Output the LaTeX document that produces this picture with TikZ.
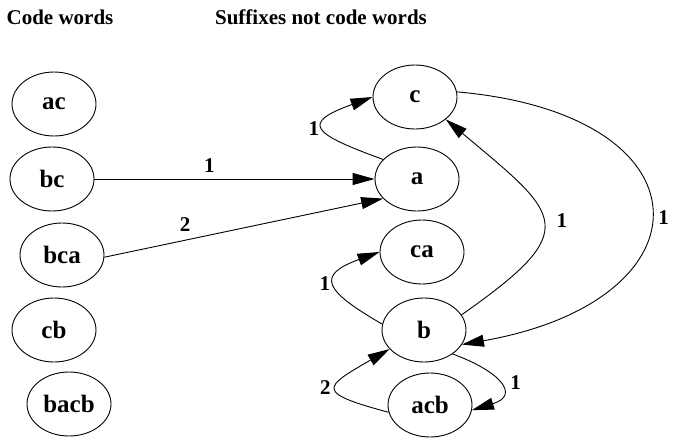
\documentclass[tikz,border=0pt]{standalone}
\usepackage{fontspec}
\setmainfont{Liberation Serif}
\usetikzlibrary{arrows.meta,shapes.geometric}

\begin{document}
\begin{tikzpicture}[
    x=1pt, y=-1pt,
    word/.style={ellipse, draw=black, line width=0.9pt, minimum width=84pt,
      minimum height=64pt, inner sep=0pt, font=\fontsize{25}{28}\selectfont\bfseries},
    head/.style={font=\fontsize{21}{24}\selectfont\bfseries},
    lbl/.style={font=\fontsize{21}{24}\selectfont\bfseries},
    dep/.style={black, line width=0.9pt, -{Triangle[length=22pt,width=12pt]}}
  ]
  \useasboundingbox (0,0) rectangle (673,440);

  % column headings
  \node (hcode) [head] at (60,17)  {Code words};
  \node (hsuff) [head] at (321,17) {Suffixes not code words};

  % code words on the left
  \node (ac)   [word] at (54,104)  {ac};
  \node (bc)   [word] at (52,179)  {bc};
  \node (bca)  [word] at (62,255)  {bca};
  \node (cb)   [word] at (54,330)  {cb};
  \node (bacb) [word] at (69,404)  {bacb};

  % dangling suffixes on the right
  \node (c)    [word] at (415,97)  {c};
  \node (a)    [word] at (417,179) {a};
  \node (ca)   [word] at (422,252) {ca};
  \node (b)    [word] at (424,330) {b};
  \node (acb)  [word] at (430,405) {acb};

  \draw[dep] (bc.east) -- node[lbl, above=3pt, pos=0.41] {1} (a.west);
  \draw[dep] (bca.357) -- node[lbl, above=5pt, pos=0.29] {2} (a.210);

  \draw[dep] (a.150) to[out=160, in=200, looseness=3.1]
    node[lbl, left=1pt] {1} (c.180);
  \draw[dep] (c.7) to[out=-5, in=10, looseness=2.6]
    node[lbl, anchor=west, xshift=4pt, yshift=-8pt] {1} (b.339);
  \draw[dep] (b.22) to[out=35, in=-40, looseness=1.96]
    node[lbl, right=10pt] {1} (c.324);
  \draw[dep] (b.172) to[out=150, in=200, looseness=2.4]
    node[lbl, left=1pt] {1} (ca.180);
  \draw[dep] (b.320) to[out=-20, in=17, looseness=2.2]
    node[lbl, right=8pt] {1} (acb.353);
  \draw[dep] (acb.190) to[out=165, in=210, looseness=3.1]
    node[lbl, left=2pt] {2} (b.209);

\end{tikzpicture}
\end{document}
